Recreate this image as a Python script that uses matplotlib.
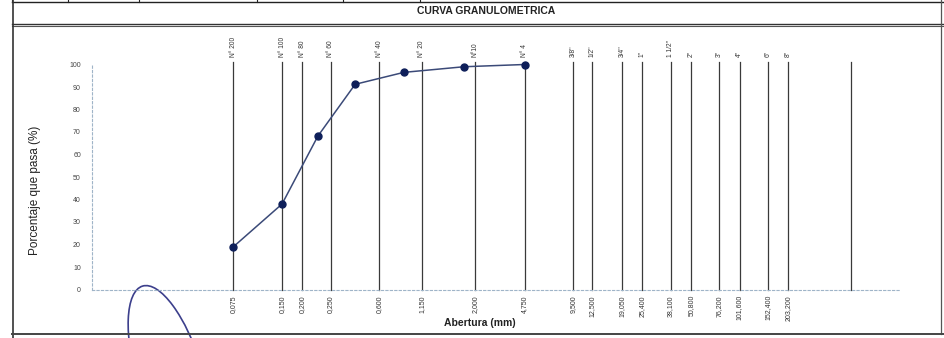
import matplotlib
matplotlib.use('Agg')
import matplotlib.pyplot as plt
from matplotlib.patches import Ellipse

plt.rcParams['font.family'] = ['Liberation Sans', 'DejaVu Sans']

# muestra ensayada
sizes_mm = [0.075, 0.150, 0.250, 0.425, 0.850, 2.000, 4.750]
passing = [19.0, 38.0, 68.2, 91.2, 96.5, 99.0, 100.0]

# lineas de tamices (posicion en mm)
sieve_mm = [0.075, 0.150, 0.200, 0.300, 0.600, 1.100, 2.360, 4.750,
            9.500, 12.500, 19.050, 25.400, 38.100, 50.800, 76.200,
            101.600, 152.400, 203.200, 500.0]
sieve_names = ['N° 200', 'N° 100', 'N° 80', 'N° 60', 'N° 40', 'N° 20', 'N°10', 'N° 4',
               '3/8"', '1/2"', '3/4"', '1"', '1 1/2"', '2"', '3"', '4"', '6"', '8"', '']
sieve_labels = ['0,075', '0,150', '0,200', '0,250', '0,600', '1,150', '2,000', '4,750',
                '9,500', '12,500', '19,050', '25,400', '38,100', '50,800', '76,200',
                '101,600', '152,400', '203,200', '']
y_ticks = list(range(0, 101, 10))

W, H = 945, 338
fig = plt.figure(figsize=(W / 100, H / 100), dpi=100)

# marco del formato (coordenadas en pixeles)
frame = fig.add_axes([0, 0, 1, 1])
frame.set_xlim(0, W)
frame.set_ylim(H, 0)
frame.axis('off')
frame.plot([12, W], [2, 2], color='#222222', lw=1.0)
for xd in [12, 68, 139, 257, 343, 420]:
    frame.plot([xd, xd], [0, 2], color='#222222', lw=0.8)
frame.plot([12, W], [24, 24], color='#333333', lw=1.0)
frame.plot([12, W], [26, 26], color='#555555', lw=0.8)
frame.plot([13, 13], [0, H], color='#333333', lw=1.2)
frame.plot([941, 941], [0, 334], color='#555555', lw=0.9)
frame.plot([12, W], [334, 334], color='#444444', lw=1.4)
frame.text(486, 11, 'CURVA GRANULOMETRICA', ha='center', va='center',
           fontsize=7.5, fontweight='bold', color='#222222')
frame.add_patch(Ellipse((170, 376), 66, 188, angle=-17, fill=False,
                        edgecolor='#3c3f8c', lw=1.2))

ax = fig.add_axes([92 / W, (H - 289.5) / H, (900 - 92) / W, (289.5 - 64.5) / H])
ax.patch.set_alpha(0)
ax.set_xscale('log')
ax.set_xlim(0.01, 1000)
ax.set_ylim(0, 100)

for s in ['top', 'right']:
    ax.spines[s].set_visible(False)
for s in ['left', 'bottom']:
    ax.spines[s].set_color('#9fb4c8')
    ax.spines[s].set_linestyle((0, (2, 2)))
    ax.spines[s].set_linewidth(0.8)

ax.set_xticks([])
ax.minorticks_off()
ax.set_yticks(y_ticks)
ax.tick_params(axis='y', length=0, pad=8, labelsize=5, labelcolor='#444444')

for xv, name, lab in zip(sieve_mm, sieve_names, sieve_labels):
    ax.plot([xv, xv], [0, 101], color='#3a3a3a', lw=0.9, clip_on=False, zorder=1)
    ax.text(xv, 103.5, name, rotation=90, ha='center', va='bottom',
            fontsize=4.8, color='#333333', clip_on=False)
    ax.text(xv, -2.5, lab, rotation=90, ha='center', va='top',
            fontsize=5, color='#333333', clip_on=False)

ax.plot(sizes_mm, passing, color='#3b4a78', lw=1.1, marker='o', markersize=5,
        markerfacecolor='#0e1f5a', markeredgecolor='#0e1f5a', zorder=3, clip_on=False)

fig.text(35 / W, 1 - 190 / H, 'Porcentaje que pasa (%)', rotation=90,
         ha='center', va='center', fontsize=8.5, color='#222222')
fig.text(480 / W, 1 - 323 / H, 'Abertura (mm)', ha='center', va='center',
         fontsize=7.5, fontweight='bold', color='#222222')

fig.savefig('out.png', dpi=100)
